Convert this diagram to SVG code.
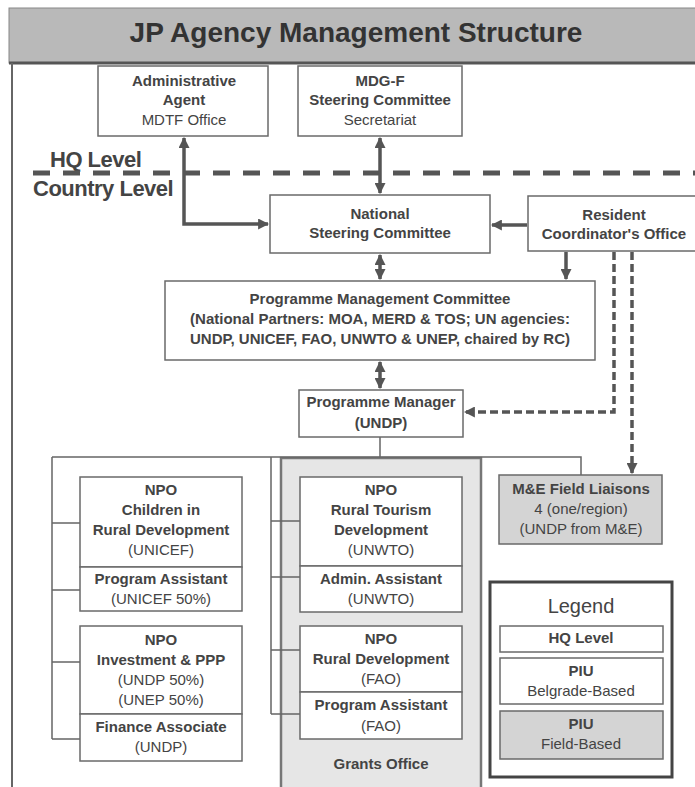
<svg xmlns="http://www.w3.org/2000/svg" width="695" height="787" viewBox="0 0 695 787">
<style>
text{font-family:"Liberation Sans",Arial,sans-serif;fill:#444;text-anchor:middle}
.b{font-weight:bold;font-size:15px}
.r{font-size:15px}
.box{fill:#fff;stroke:#6a6a6a;stroke-width:1.5}
.gbox{fill:#d4d4d4;stroke:#6a6a6a;stroke-width:1.5}
.thick{fill:none;stroke:#555;stroke-width:3.5}
.dash{fill:none;stroke:#555;stroke-width:3.5;stroke-dasharray:8 4}
.thin{fill:none;stroke:#666;stroke-width:1.5}
.lvl{font-weight:bold;font-size:22px;letter-spacing:-0.5px;text-anchor:start;fill:#444}
</style>
<defs>
<marker id="ah" viewBox="0 0 10 10" refX="9" refY="5" markerWidth="11" markerHeight="11" markerUnits="userSpaceOnUse" orient="auto-start-reverse">
<path d="M0,0 L10,5 L0,10 z" fill="#555"/>
</marker>
</defs>
<rect width="695" height="787" fill="#fff"/>
<g id="frame">
<rect x="9" y="8" width="690" height="55" fill="#b9b9b9" stroke="#888" stroke-width="1"/>
<line x1="9" y1="63" x2="695" y2="63" stroke="#555" stroke-width="3"/>
<line x1="12" y1="63" x2="12" y2="787" stroke="#666" stroke-width="2"/>
<text x="356" y="42" style="font-size:28px;font-weight:bold;fill:#333">JP Agency Management Structure</text>
</g>
<g id="levels">
<text class="lvl" x="50" y="167">HQ Level</text>
<line x1="33" y1="173" x2="695" y2="173" stroke="#555" stroke-width="5" stroke-dasharray="17 13"/>
<text class="lvl" x="33" y="196">Country Level</text>
</g>
<g id="grants-office">
<rect x="281" y="458" width="200" height="332" fill="#e6e6e6" stroke="#777" stroke-width="2.5"/>
<text class="b" x="381" y="769">Grants Office</text>
</g>
<g id="connectors">
<path class="thick" d="M184,138 V224 H268" marker-start="url(#ah)" marker-end="url(#ah)"/>
<path class="thick" d="M380,138 V193" marker-start="url(#ah)" marker-end="url(#ah)"/>
<path class="thick" d="M527,225 H492" marker-end="url(#ah)"/>
<path class="thick" d="M380,255 V279" marker-start="url(#ah)" marker-end="url(#ah)"/>
<path class="thick" d="M566,252 V279" marker-end="url(#ah)"/>
<path class="thick" d="M380,362 V388" marker-start="url(#ah)" marker-end="url(#ah)"/>
<path class="dash" d="M614,252 V412 H465" marker-end="url(#ah)"/>
<path class="dash" d="M632,252 V473" marker-end="url(#ah)"/>
<path class="thin" d="M380,437 V457 M52,457 H581 V475 M52,457 V739 M52,523 H80 M52,590 H80 M52,662 H80 M52,739 H80 M271,457 V714 M271,521 H300 M271,577 H300 M271,650 H300 M271,714 H300"/>
</g>
<g id="admin-agent">
<rect class="box" x="98" y="66" width="170" height="70"/>
<text class="b" x="184" y="86">Administrative</text>
<text class="b" x="184" y="105">Agent</text>
<text class="r" x="184" y="125">MDTF Office</text>
</g>
<g id="mdgf-steering">
<rect class="box" x="298" y="66" width="164" height="70"/>
<text class="b" x="380" y="86">MDG-F</text>
<text class="b" x="380" y="105">Steering Committee</text>
<text class="r" x="380" y="125">Secretariat</text>
</g>
<g id="national-steering">
<rect class="box" x="270" y="195" width="220" height="58"/>
<text class="b" x="380" y="219">National</text>
<text class="b" x="380" y="238">Steering Committee</text>
</g>
<g id="resident-coordinator">
<rect class="box" x="528" y="196" width="175" height="55"/>
<text class="b" x="614" y="220">Resident</text>
<text class="b" x="614" y="239">Coordinator's Office</text>
</g>
<g id="pmc">
<rect class="box" x="165" y="281" width="430" height="79"/>
<text class="b" x="380" y="304">Programme Management Committee</text>
<text class="b" x="380" y="324">(National Partners: MOA, MERD &amp; TOS; UN agencies:</text>
<text class="b" x="380" y="344">UNDP, UNICEF, FAO, UNWTO &amp; UNEP, chaired by RC)</text>
</g>
<g id="programme-manager">
<rect class="box" x="299" y="390" width="164" height="47"/>
<text class="b" x="381" y="407">Programme Manager</text>
<text class="b" x="381" y="428">(UNDP)</text>
</g>
<g id="me-liaisons">
<rect class="gbox" x="499" y="475" width="163" height="69"/>
<text class="b" x="581" y="494">M&amp;E Field Liaisons</text>
<text class="r" x="581" y="514">4 (one/region)</text>
<text class="r" x="581" y="534">(UNDP from M&amp;E)</text>
</g>
<g id="npo-children">
<rect class="box" x="80" y="477" width="162" height="90"/>
<text class="b" x="161" y="495">NPO</text>
<text class="b" x="161" y="515">Children in</text>
<text class="b" x="161" y="535">Rural Development</text>
<text class="r" x="161" y="555">(UNICEF)</text>
</g>
<g id="program-assistant-unicef">
<rect class="box" x="80" y="567" width="162" height="44"/>
<text class="b" x="161" y="584">Program Assistant</text>
<text class="r" x="161" y="604">(UNICEF 50%)</text>
</g>
<g id="npo-investment">
<rect class="box" x="80" y="626" width="162" height="88"/>
<text class="b" x="161" y="645">NPO</text>
<text class="b" x="161" y="665">Investment &amp; PPP</text>
<text class="r" x="161" y="685">(UNDP 50%)</text>
<text class="r" x="161" y="705">(UNEP 50%)</text>
</g>
<g id="finance-associate">
<rect class="box" x="80" y="714" width="162" height="47"/>
<text class="b" x="161" y="732">Finance Associate</text>
<text class="r" x="161" y="752">(UNDP)</text>
</g>
<g id="npo-rural-tourism">
<rect class="box" x="300" y="477" width="162" height="89"/>
<text class="b" x="381" y="495">NPO</text>
<text class="b" x="381" y="515">Rural Tourism</text>
<text class="b" x="381" y="535">Development</text>
<text class="r" x="381" y="555">(UNWTO)</text>
</g>
<g id="admin-assistant">
<rect class="box" x="300" y="566" width="162" height="46"/>
<text class="b" x="381" y="584">Admin. Assistant</text>
<text class="r" x="381" y="604">(UNWTO)</text>
</g>
<g id="npo-rural-development">
<rect class="box" x="300" y="626" width="162" height="66"/>
<text class="b" x="381" y="644">NPO</text>
<text class="b" x="381" y="664">Rural Development</text>
<text class="r" x="381" y="684">(FAO)</text>
</g>
<g id="program-assistant-fao">
<rect class="box" x="300" y="692" width="162" height="47"/>
<text class="b" x="381" y="710">Program Assistant</text>
<text class="r" x="381" y="731">(FAO)</text>
</g>
<g id="legend">
<rect x="490" y="582" width="182" height="195" fill="#fff" stroke="#444" stroke-width="3"/>
<text x="581" y="613" style="font-size:20px">Legend</text>
<rect class="box" x="500" y="626" width="163" height="26"/>
<text class="b" x="581" y="643">HQ Level</text>
<rect class="box" x="500" y="658" width="163" height="46"/>
<text class="b" x="581" y="676">PIU</text>
<text class="r" x="581" y="696">Belgrade-Based</text>
<rect class="gbox" x="500" y="711" width="163" height="48"/>
<text class="b" x="581" y="729">PIU</text>
<text class="r" x="581" y="749">Field-Based</text>
</g>
</svg>
